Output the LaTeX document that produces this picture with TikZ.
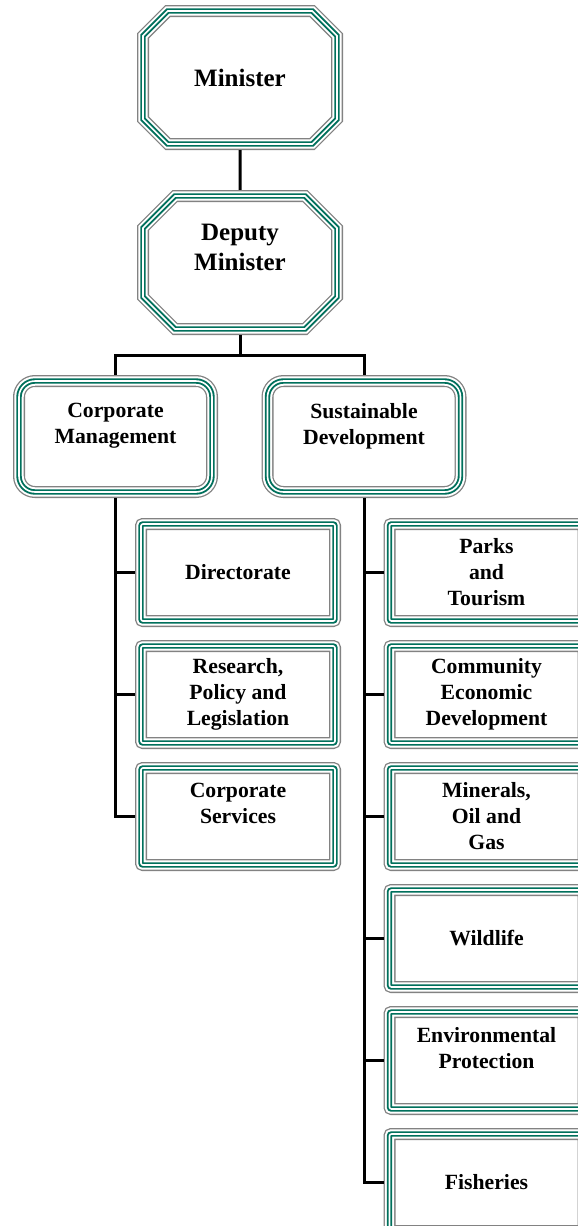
\documentclass[tikz,border=0pt]{standalone}
\usepackage{fontspec}
\setmainfont{Liberation Serif}
\usepackage{xcolor}
\usepackage{tikz}
\usetikzlibrary{shapes.misc}
\usetikzlibrary{shapes,arrows,positioning}
\definecolor{frame-teal}{RGB}{0,112,92}
\definecolor{frame-gray}{RGB}{130,130,130}
\tikzset{org-line/.style={line width=3pt}}
\tikzset{org-frame/.style={preaction={draw=frame-gray, line width=12pt}, preaction={draw=white, line width=9.4pt}, preaction={draw=frame-teal, line width=5.4pt}, draw=white, line width=1.6pt, outer sep=6pt, inner sep=0, align=center, font=\bfseries\fontsize{21.7}{26}\selectfont}}
\tikzset{org-top/.style={org-frame, chamfered rectangle, chamfered rectangle xsep=16pt, chamfered rectangle ysep=16pt, minimum width=194pt, minimum height=133pt, font=\bfseries\fontsize{25}{30.5}\selectfont}}
\tikzset{org-mid/.style={org-frame, rectangle, rounded corners=16pt, minimum width=193pt, minimum height=111pt}}
\tikzset{org-unit/.style={org-frame, rectangle, rounded corners=2pt, minimum width=194pt, minimum height=97pt}}

\begin{document}
\begin{tikzpicture}[]
            \useasboundingbox (0,0) rectangle (578pt,-1226pt);
            \clip (0,0) rectangle (578pt,-1226pt);

            \node[org-top] (minister) at (240pt,-77.5pt) {Minister};
            \node[org-top, below=40pt of minister] (deputy) {Deputy\\Minister\\\mbox{}};

            \node[org-mid, below=40pt of deputy, xshift=-124.5pt] (corp-mgmt) {Corporate\\Management\\\mbox{}};
            \node[org-mid, below=40pt of deputy, xshift=124pt] (sust-dev) {Sustainable\\Development\\\mbox{}};

            \node[org-unit, below=20pt of corp-mgmt, xshift=122.5pt] (directorate) {Directorate};
            \node[org-unit, below=13pt of directorate] (research) {Research,\\Policy and\\Legislation};
            \node[org-unit, below=13pt of research] (corp-services) {Corporate\\Services\\\mbox{}};

            \node[org-unit, below=20pt of sust-dev, xshift=122.5pt] (parks) {Parks\\and\\Tourism};
            \node[org-unit, below=13pt of parks] (community) {Community\\Economic\\Development};
            \node[org-unit, below=13pt of community] (minerals) {Minerals,\\Oil and\\Gas};
            \node[org-unit, below=13pt of minerals] (wildlife) {Wildlife};
            \node[org-unit, below=13pt of wildlife] (environment) {Environmental\\Protection\\\mbox{}};
            \node[org-unit, below=13pt of environment] (fisheries) {Fisheries};

            \draw[org-line] (minister) -- (deputy);
            \draw[org-line] (deputy.south) -- ++(0,-20pt) -| (corp-mgmt.north);
            \draw[org-line] (deputy.south) -- ++(0,-20pt) -| (sust-dev.north);

            \foreach \unit in {directorate, research, corp-services}
                \draw[org-line] (corp-mgmt.south) |- (\unit.west);
            \foreach \unit in {parks, community, minerals, wildlife, environment, fisheries}
                \draw[org-line] (sust-dev.south) |- (\unit.west);
        \end{tikzpicture}
\end{document}
